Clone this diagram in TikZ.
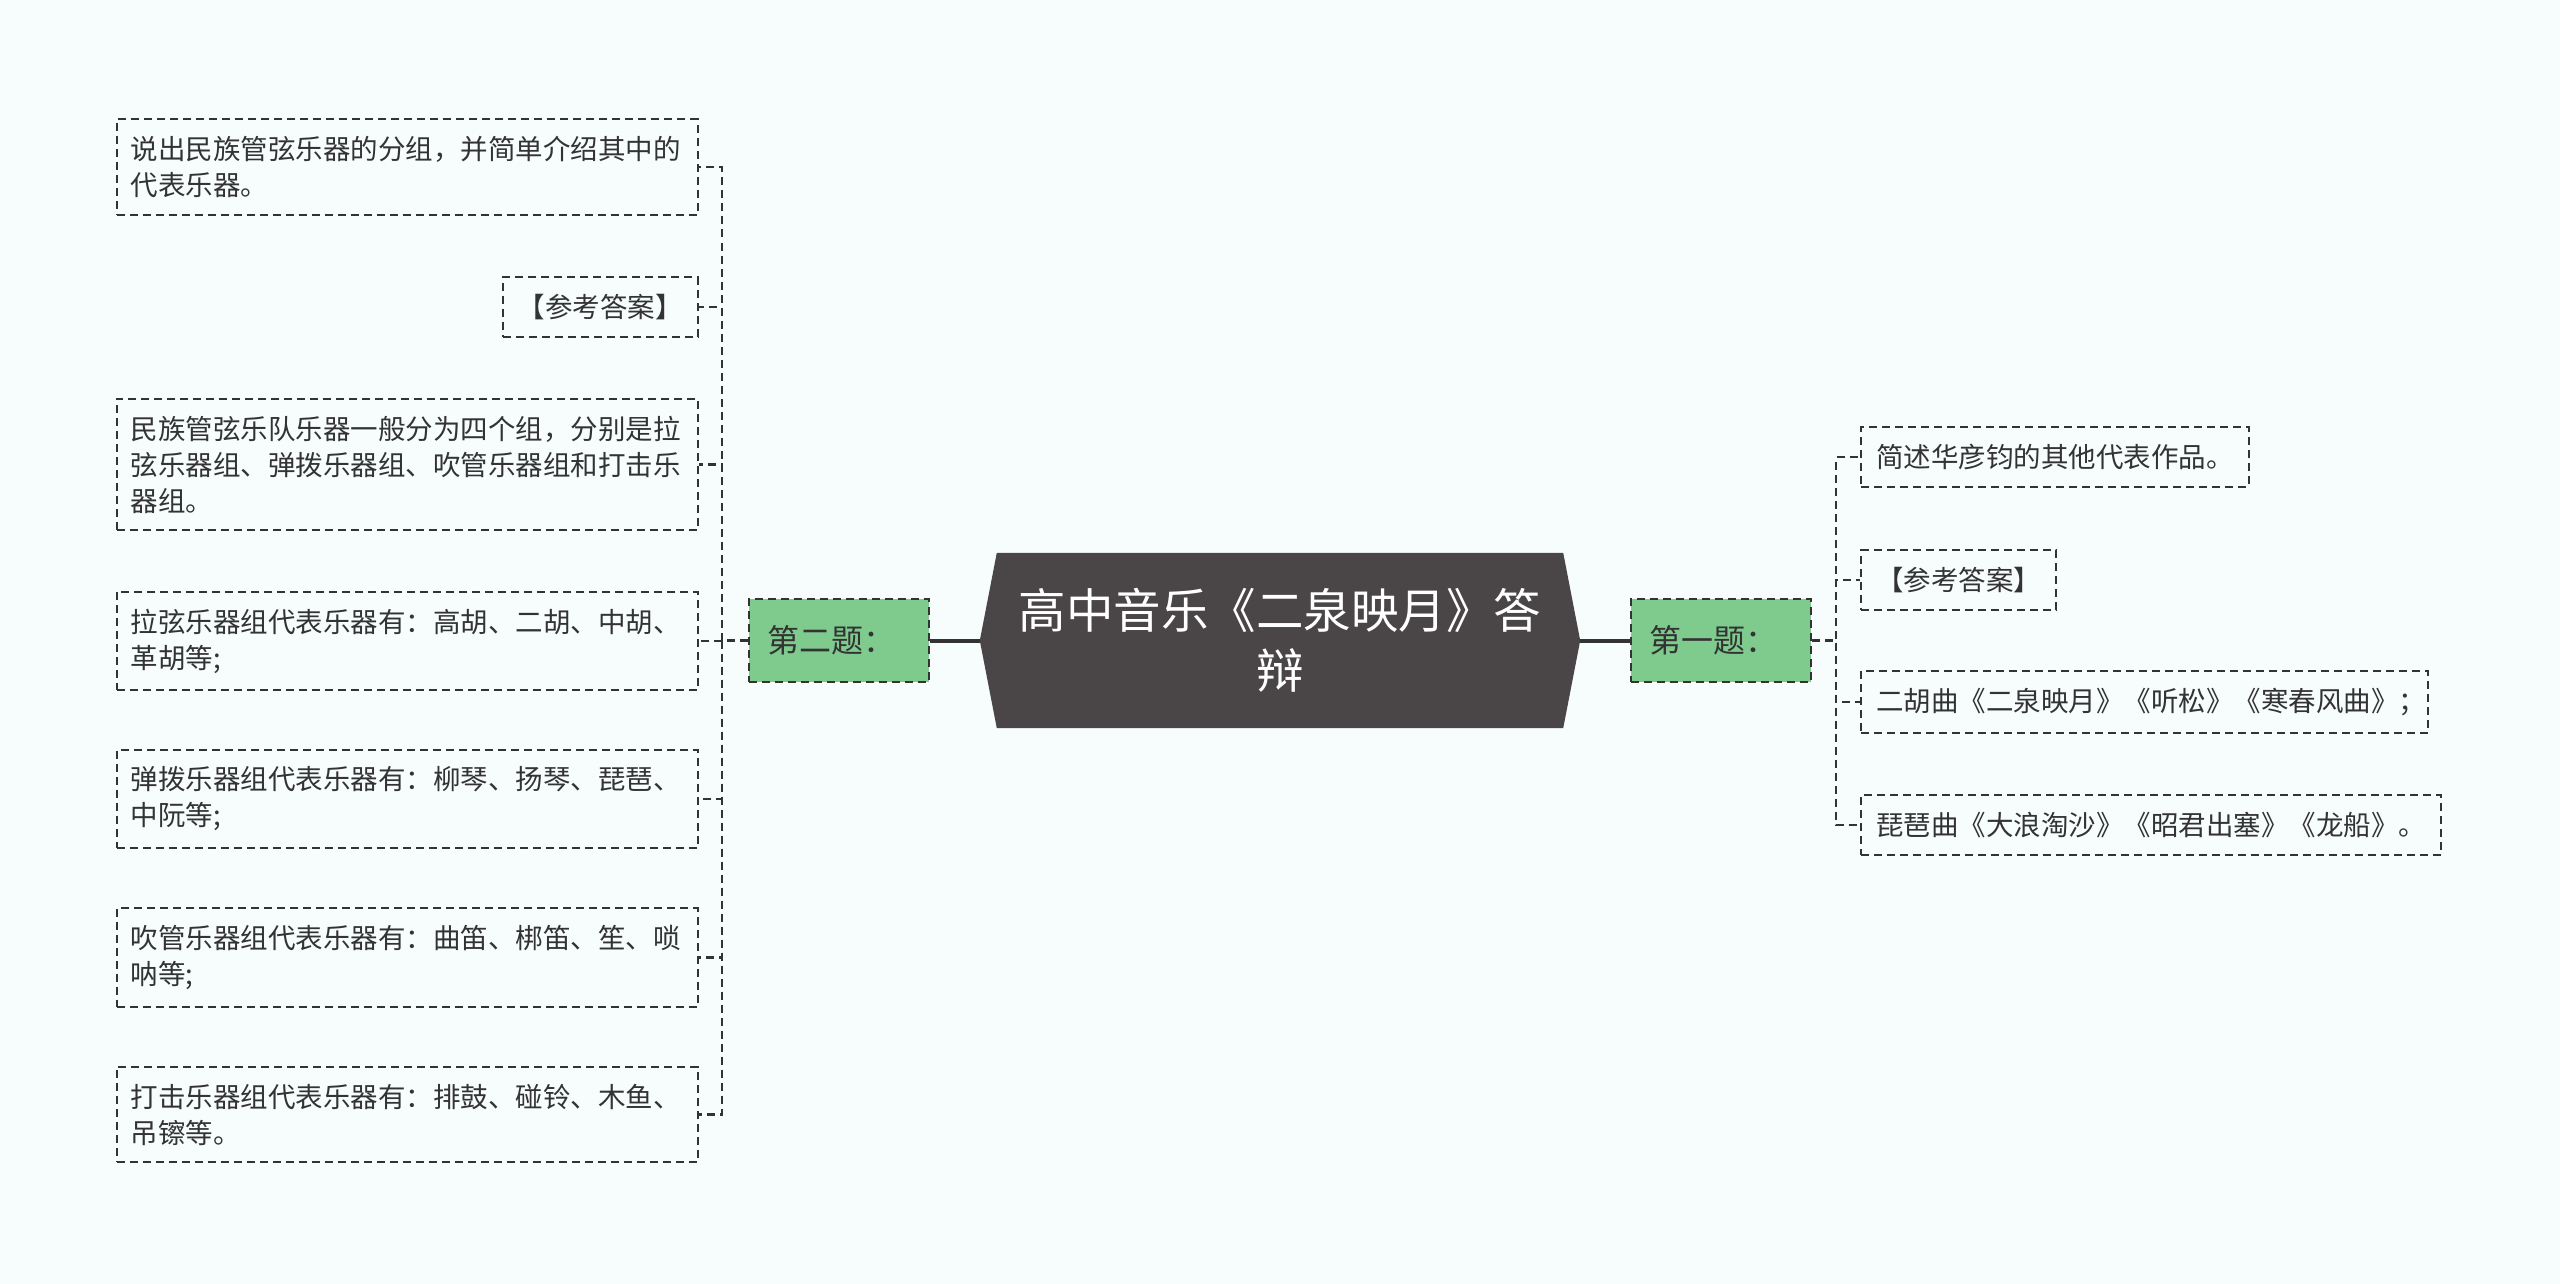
\documentclass[tikz,border=0pt]{standalone}
\usepackage{fontspec}
\setmainfont{Noto Sans CJK SC}
\usetikzlibrary{backgrounds}
\definecolor{bgc}{HTML}{F7FCFD}
\definecolor{rootc}{HTML}{4A4546}
\definecolor{greenc}{HTML}{7FCB8E}
\definecolor{linec}{HTML}{333333}
\begin{document}
\begin{tikzpicture}[x=1pt,y=-1pt,
  leaf/.style={draw=linec, line width=2.4pt, dash pattern=on 8pt off 5pt, inner xsep=15pt, inner ysep=17pt, font=\fontsize{27.5pt}{36pt}\selectfont, text=linec},
  leafL/.style={leaf, inner xsep=14pt, text width=553pt, align=left, anchor=east},
  leafR/.style={leaf, anchor=west},
  topic/.style={draw=linec, line width=2.4pt, dash pattern=on 8pt off 5pt, fill=greenc, inner xsep=18pt, text width=144pt, align=left, minimum height=83pt, font=\fontsize{32pt}{36pt}\selectfont, text=linec},
  conn/.style={draw=linec, line width=2.4pt, dash pattern=on 8pt off 5pt},
  trunk/.style={draw=linec, line width=4pt}
]
\useasboundingbox (0,0) rectangle (2560,1284);
\node[minimum width=600pt, minimum height=175pt, text=white, align=center, font=\fontsize{47.5pt}{60pt}\selectfont] (root) at (1280,640.5) {高中音乐《二泉映月》答\\辩};
\begin{scope}[on background layer]
\fill[bgc] (0,0) rectangle (2560,1284);
\fill[rootc] ([xshift=17pt]root.north west) -- ([xshift=-17pt]root.north east) -- (root.east) -- ([xshift=-17pt]root.south east) -- ([xshift=17pt]root.south west) -- (root.west) -- cycle;
\end{scope}

\node[topic] (gL) at (839,640.5) {第二题：};
\node[topic] (gR) at (1721,640.5) {第一题：};

\node[leafL] (L1) at (699,167) {说出民族管弦乐器的分组，并简单介绍其中的\\代表乐器。};
\node[leaf, anchor=east] (L2) at (699,307) {【参考答案】};
\node[leafL] (L3) at (699,464.5) {民族管弦乐队乐器一般分为四个组，分别是拉\\弦乐器组、弹拨乐器组、吹管乐器组和打击乐\\器组。};
\node[leafL] (L4) at (699,641) {拉弦乐器组代表乐器有：高胡、二胡、中胡、\\革胡等;};
\node[leafL] (L5) at (699,799) {弹拨乐器组代表乐器有：柳琴、扬琴、琵琶、\\中阮等;};
\node[leafL] (L6) at (699,957.5) {吹管乐器组代表乐器有：曲笛、梆笛、笙、唢\\呐等;};
\node[leafL] (L7) at (699,1114.5) {打击乐器组代表乐器有：排鼓、碰铃、木鱼、\\吊镲等。};

\node[leafR] (R1) at (1860,457) {简述华彦钧的其他代表作品。};
\node[leafR] (R2) at (1860,580) {【参考答案】};
\node[leafR] (R3) at (1860,702) {二胡曲《二泉映月》《听松》《寒春风曲》；\kern-13pt};
\node[leafR] (R4) at (1860,825) {琵琶曲《大浪淘沙》《昭君出塞》《龙船》。};

\draw[trunk] (root.west) -- (gL.east);
\draw[trunk] (root.east) -- (gR.west);
\foreach \n in {L1,L2,L3,L4,L5,L6,L7} \draw[conn] (gL.west) -- ++(-26,0) |- (\n.east);
\foreach \n in {R1,R2,R3,R4} \draw[conn] (gR.east) -- ++(24,0) |- (\n.west);
\end{tikzpicture}
\end{document}
